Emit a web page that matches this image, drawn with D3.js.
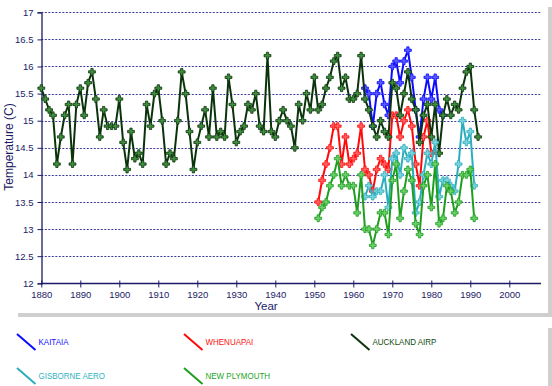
<!DOCTYPE html>
<html>
<head>
<meta charset="utf-8">
<script src="https://cdn.jsdelivr.net/npm/d3@7"></script>
<style>
  body { margin: 0; background: #fff; }
  svg { display: block; font-family: "Liberation Sans", Arial, sans-serif; }
</style>
</head>
<body>
<svg id="chart" width="552" height="386"></svg>
<script>
// station series, one value per year starting at the start year
var kaitaiaStart = 1963
var kaitaia = [15.6, 15.5, 14.9, 15.5, 15.7, 15.3, 15.1, 16.0, 16.1, 15.7, 16.1, 16.3, 15.8, 15.2, 14.7, 15.4, 15.8, 15.4, 15.8, 15.2, 15.1]

var whenuapaiStart = 1951
var whenuapai = [13.5, 13.9, 14.2, 14.5, 14.9, 14.9, 14.2, 14.7, 14.2, 14.3, 14.4, 14.9, 14.1, 14.0, 13.7, 14.1, 14.3, 14.2, 14.1, 15.1,
                 15.1, 14.7, 15.0, 15.2, 14.9, 14.2, 13.8, 14.7, 15.0, 14.4]

var aucklandStart = 1880
var auckland = [15.6, 15.4, 15.2, 15.1, 14.2, 14.7, 15.1, 15.3, 14.2, 15.3,
                15.6, 15.1, 15.7, 15.9, 15.4, 14.7, 15.2, 14.9, 14.9, 14.9,
                15.4, 14.6, 14.1, 14.8, 14.3, 14.4, 14.2, 15.3, 14.9, 15.5,
                15.6, 15.0, 14.2, 14.4, 14.3, 15.0, 15.9, 15.5, 14.8, 14.1,
                14.6, 14.9, 15.2, 14.7, 15.6, 14.7, 14.8, 14.7, 15.8, 15.3,
                14.6, 14.8, 14.9, 15.3, 15.2, 15.5, 14.9, 14.8, 16.2, 14.8,
                14.7, 15.0, 15.2, 15.0, 14.9, 14.5, 15.3, 15.0, 15.5, 15.2,
                15.8, 15.2, 15.3, 15.6, 15.8, 16.1, 16.2, 15.6, 15.8, 15.4,
                15.4, 15.5, 16.2, 15.4, 15.2, 14.9, 14.7, 15.0, 14.8, 14.7,
                15.7, 15.6, 15.1, 15.5, 15.9, 15.4, 15.2, 14.6, 15.1, 15.3,
                14.7, 15.3, 14.4, 15.1, 15.4, 15.1, 15.3, 15.2, 15.6, 15.9,
                16.0, 15.2, 14.7]

var gisborneStart = 1963
var gisborne = [13.6, 13.8, 13.6, 13.7, 13.7, 14.0, 13.4, 14.3, 14.4, 14.0,
                14.5, 14.3, 14.4, 13.3, 13.5, 14.0, 14.4, 14.2, 14.6, 13.6,
                13.9, 13.9, 13.8, 13.7, 14.2, 15.0, 14.6, 14.8, 13.8]

var plymouthStart = 1951
var plymouth = [13.2, 13.4, 13.5, 13.8, 14.0, 14.3, 13.8, 14.0, 13.8, 13.8,
                13.3, 14.0, 13.0, 13.0, 12.7, 13.0, 13.3, 13.3, 12.9, 13.9,
                14.2, 13.2, 13.7, 14.1, 13.9, 13.1, 12.9, 13.8, 14.0, 13.4,
                14.2, 13.1, 13.2, 13.8, 13.7, 13.3, 13.5, 14.0, 14.0, 14.1,
                13.2]

var xTicks = [1880, 1890, 1900, 1910, 1920, 1930, 1940, 1950, 1960, 1970, 1980, 1990, 2000]
var yTicks = [12, 12.5, 13, 13.5, 14, 14.5, 15, 15.5, 16, 16.5, 17]

var series = [
    {name: 'KAITAIA', start: kaitaiaStart, values: kaitaia, line: '#0a0aff', fill: '#5a5aff', text: '#1010ff'},
    {name: 'WHENUAPAI', start: whenuapaiStart, values: whenuapai, line: '#ff0a0a', fill: '#ff6060', text: '#ff1010'},
    {name: 'AUCKLAND AIRP', start: aucklandStart, values: auckland, line: '#0b330b', fill: '#3f8f3f', text: '#0e4a0e'},
    {name: 'GISBORNE AERO', start: gisborneStart, values: gisborne, line: '#2aaebe', fill: '#7fd3dd', text: '#33b3c3'},
    {name: 'NEW PLYMOUTH', start: plymouthStart, values: plymouth, line: '#1e9e1e', fill: '#6cd06c', text: '#22a622'}
]

var navy = '#1b1b66'
var svg = d3.select('#chart')

var x = d3.scaleLinear().domain([1880, 2000]).range([41.3, 509.3])
var y = d3.scaleLinear().domain([12, 17]).range([283.3, 12.3])
var plotRight = 541

// drop shadow of the chart panel and the legend panel
svg.append('rect').attr('x', 548).attr('y', 7).attr('width', 4).attr('height', 306).attr('fill', '#cfcfcf')
svg.append('rect').attr('x', 18).attr('y', 313).attr('width', 534).attr('height', 4).attr('fill', '#cfcfcf')
svg.append('rect').attr('x', 548).attr('y', 328).attr('width', 4).attr('height', 58).attr('fill', '#cfcfcf')

// grid
svg.append('g').selectAll('line')
    .data(yTicks.filter(function(d){ return d > 12 }))
    .enter().append('line')
    .attr('x1', x(1880)).attr('x2', plotRight)
    .attr('y1', function(d){ return Math.round(y(d)) + 0.5 })
    .attr('y2', function(d){ return Math.round(y(d)) + 0.5 })
    .attr('stroke', '#3c3c96')
    .attr('stroke-dasharray', '2,1.5')
    .attr('stroke-width', 1)

// y axis
var yAxis = d3.axisLeft(y).tickValues(yTicks).tickSize(4).tickPadding(4)
    .tickFormat(function(d){ return d3.format('')(d) })
var gy = svg.append('g').attr('transform', 'translate(41.5,0)').call(yAxis)
gy.select('.domain').attr('stroke', navy).attr('stroke-width', 1.3)
gy.selectAll('.tick line').attr('stroke', navy)
gy.selectAll('.tick text').attr('fill', navy).attr('font-size', '9.5px').attr('font-family', '"Liberation Sans", Arial, sans-serif')

// x axis, line runs past the last tick
var xAxis = d3.axisBottom(x).tickValues(xTicks).tickSize(4).tickPadding(4).tickFormat(d3.format('d'))
var gx = svg.append('g').attr('transform', 'translate(0,283.5)').call(xAxis)
gx.select('.domain').remove()
gx.append('line').attr('x1', x(1880)).attr('x2', plotRight).attr('stroke', navy).attr('stroke-width', 1.3)
gx.selectAll('.tick line').attr('y1', -3).attr('stroke', navy)
gx.selectAll('.tick text').attr('fill', navy).attr('font-size', '9.5px').attr('font-family', '"Liberation Sans", Arial, sans-serif')

// axis titles
svg.append('text')
    .attr('transform', 'translate(13,147) rotate(-90)')
    .attr('text-anchor', 'middle')
    .attr('fill', navy)
    .attr('font-size', '12px')
    .text('Temperature (C)')

svg.append('text')
    .attr('x', 266).attr('y', 310)
    .attr('text-anchor', 'middle')
    .attr('fill', navy)
    .attr('font-size', '11.5px')
    .text('Year')

// lines and markers
var line = d3.line()
    .x(function(d){ return x(d.year) })
    .y(function(d){ return y(d.value) })

var marker = d3.symbol().type(d3.symbolCross).size(26)

series.forEach(function(s){
    var pts = s.values.map(function(v, i){ return {year: s.start + i, value: v} })
    var g = svg.append('g')
    g.append('path')
        .datum(pts)
        .attr('d', line)
        .attr('fill', 'none')
        .attr('stroke', s.line)
        .attr('stroke-width', 2)
    g.selectAll('path.pt')
        .data(pts)
        .enter().append('path')
        .attr('class', 'pt')
        .attr('transform', function(d){ return 'translate(' + x(d.year) + ',' + y(d.value) + ')' })
        .attr('d', marker)
        .attr('fill', s.fill)
        .attr('stroke', s.line)
        .attr('stroke-width', 0.8)
})

// legend
var legendPos = [[17, 334], [184, 334], [351, 334], [17, 368], [184, 368]]
var legend = svg.append('g')
series.forEach(function(s, i){
    var p = legendPos[i]
    legend.append('line')
        .attr('x1', p[0]).attr('y1', p[1])
        .attr('x2', p[0] + 18.5).attr('y2', p[1] + 16)
        .attr('stroke', s.line)
        .attr('stroke-width', 2)
    var t = legend.append('text')
        .attr('x', p[0] + 21.5).attr('y', p[1] + 11)
        .attr('fill', s.text)
        .attr('font-size', '9.5px')
        .text(s.name)
    var w = t.node().getComputedTextLength()
    t.attr('textLength', w * 0.84).attr('lengthAdjust', 'spacingAndGlyphs')
})
</script>
</body>
</html>
